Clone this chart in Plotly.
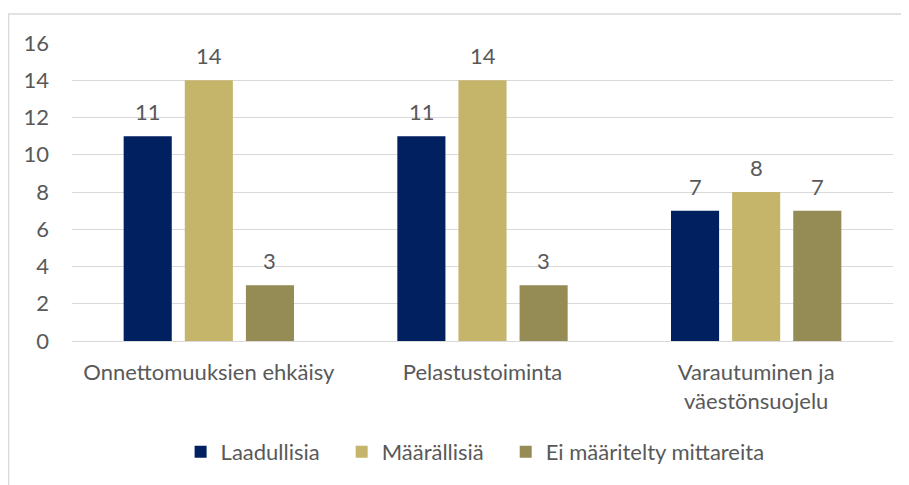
import plotly.graph_objects as go

categories = ["Onnettomuuksien ehkäisy", "Pelastustoiminta", "Varautuminen ja<br>väestönsuojelu"]
series_names = ["Laadullisia", "Määrällisiä", "Ei määritelty mittareita"]
laadullisia = [11, 11, 7]
maarallisia = [14, 14, 8]
ei_maaritelty = [3, 3, 7]
y_ticks = [0, 2, 4, 6, 8, 10, 12, 14, 16]

colors = ["#002060", "#C5B56A", "#958B54"]
values = [laadullisia, maarallisia, ei_maaritelty]
text_color = "#595959"
font_family = "Lato, 'Open Sans', sans-serif"
fsize = 22
pad = "\u00a0\u00a0\u00a0"  # extra room between legend entries

fig = go.Figure()
for k, (name, vals, color) in enumerate(zip(series_names, values, colors)):
    label = name + (pad if k < len(series_names) - 1 else "")
    fig.add_trace(go.Bar(x=categories, y=vals, name=label, marker=dict(color=color, line=dict(width=0))))

# data labels placed above the bars
slot_px = 61
for i, vals in enumerate(values):
    for cat, v in zip(categories, vals):
        fig.add_annotation(
            x=cat, y=v, text=str(v), showarrow=False,
            xshift=(i - 1) * slot_px, yshift=9, yanchor="bottom",
            font=dict(size=fsize, color=text_color, family=font_family),
        )

# outer chart border
fig.add_shape(type="rect", xref="paper", yref="paper",
              x0=-0.0773, x1=1.2, y0=-0.8, y1=1.0973,
              line=dict(color="#d9d9d9", width=1.5), layer="below")

fig.update_layout(
    width=909, height=485,
    margin=dict(l=64, r=24, t=35, b=152),
    paper_bgcolor="white", plot_bgcolor="white",
    barmode="group", bargap=0.33, bargroupgap=0.213,
    font=dict(family=font_family, size=fsize, color=text_color),
    showlegend=True,
    legend=dict(orientation="h", x=0.491, xanchor="center", y=-0.372, yanchor="middle",
                font=dict(size=fsize, color=text_color), itemwidth=30, traceorder="normal"),
)
fig.update_yaxes(range=[0, 16], tickvals=y_ticks, showgrid=True, gridcolor="#d9d9d9", gridwidth=1,
                 zeroline=False, showline=False, ticks="", ticklabelstandoff=22,
                 tickfont=dict(size=fsize, color=text_color))
fig.update_xaxes(showline=True, linecolor="#d9d9d9", linewidth=1, ticks="", ticklabelstandoff=12,
                 tickfont=dict(size=fsize, color=text_color))

fig.write_html("out.html")
